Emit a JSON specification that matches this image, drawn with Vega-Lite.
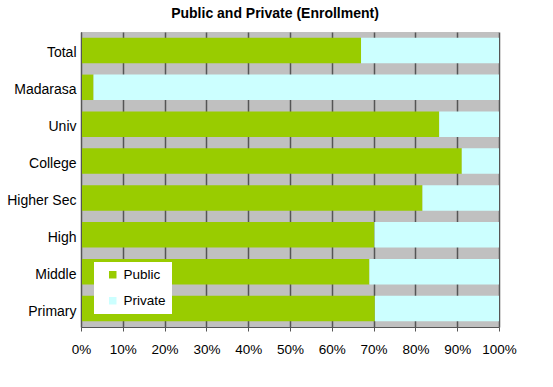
{
  "$schema": "https://vega.github.io/schema/vega-lite/v6.json",
  "width": 418,
  "height": 295,
  "autosize": {"type": "none"},
  "padding": {"left": 81, "top": 32, "right": 54, "bottom": 60},
  "background": "white",
  "title": {
    "text": "Public and Private (Enrollment)",
    "font": "Liberation Sans",
    "fontSize": 14,
    "fontWeight": "bold",
    "color": "black",
    "anchor": "middle",
    "dx": -15,
    "offset": 11
  },
  "config": {
    "view": {"fill": "#c0c0c0", "stroke": null},
    "font": "Liberation Sans"
  },
  "data": {
    "values": [
      {"level": "Total", "type": "Public", "share": 67.0},
      {"level": "Total", "type": "Private", "share": 33.0},
      {"level": "Madarasa", "type": "Public", "share": 3.0},
      {"level": "Madarasa", "type": "Private", "share": 97.0},
      {"level": "Univ", "type": "Public", "share": 85.7},
      {"level": "Univ", "type": "Private", "share": 14.3},
      {"level": "College", "type": "Public", "share": 91.1},
      {"level": "College", "type": "Private", "share": 8.9},
      {"level": "Higher Sec", "type": "Public", "share": 81.7},
      {"level": "Higher Sec", "type": "Private", "share": 18.3},
      {"level": "High", "type": "Public", "share": 70.2},
      {"level": "High", "type": "Private", "share": 29.8},
      {"level": "Middle", "type": "Public", "share": 69.0},
      {"level": "Middle", "type": "Private", "share": 31.0},
      {"level": "Primary", "type": "Public", "share": 70.3},
      {"level": "Primary", "type": "Private", "share": 29.7}
    ]
  },
  "mark": {"type": "bar"},
  "encoding": {
    "y": {
      "field": "level",
      "type": "nominal",
      "sort": ["Total", "Madarasa", "Univ", "College", "Higher Sec", "High", "Middle", "Primary"],
      "scale": {"paddingInner": 0.31, "paddingOuter": 0.155},
      "axis": {
        "title": null,
        "ticks": false,
        "labelFont": "Liberation Sans",
        "labelFontSize": 14,
        "labelColor": "black",
        "labelPadding": 5,
        "labelOffset": 3,
        "domainColor": "#555555",
        "domainWidth": 1,
        "zindex": 1
      }
    },
    "x": {
      "field": "share",
      "type": "quantitative",
      "stack": "normalize",
      "scale": {"domain": [0, 1], "nice": false},
      "axis": {
        "title": null,
        "values": [0, 0.1, 0.2, 0.3, 0.4, 0.5, 0.6, 0.7, 0.8, 0.9, 1],
        "format": ".0%",
        "labelFont": "Liberation Sans",
        "labelFontSize": 13.5,
        "labelColor": "black",
        "labelPadding": 11,
        "tickSize": 4,
        "tickColor": "#555555",
        "domainColor": "#555555",
        "grid": true,
        "gridColor": "#555555",
        "gridWidth": 1.5,
        "labelFlush": false,
        "zindex": 0
      }
    },
    "order": {"field": "type", "sort": "descending"},
    "color": {
      "field": "type",
      "type": "nominal",
      "sort": ["Public", "Private"],
      "scale": {"domain": ["Public", "Private"], "range": ["#99cc00", "#ccffff"]},
      "legend": {
        "title": null,
        "orient": "none",
        "legendX": 13,
        "legendY": 230,
        "fillColor": "white",
        "padding": 6,
        "symbolOffset": 6,
        "symbolType": "square",
        "symbolSize": 56,
        "symbolStrokeWidth": 0,
        "labelFont": "Liberation Sans",
        "labelFontSize": 13.5,
        "labelColor": "black",
        "labelOffset": 4,
        "rowPadding": 11
      }
    }
  }
}
